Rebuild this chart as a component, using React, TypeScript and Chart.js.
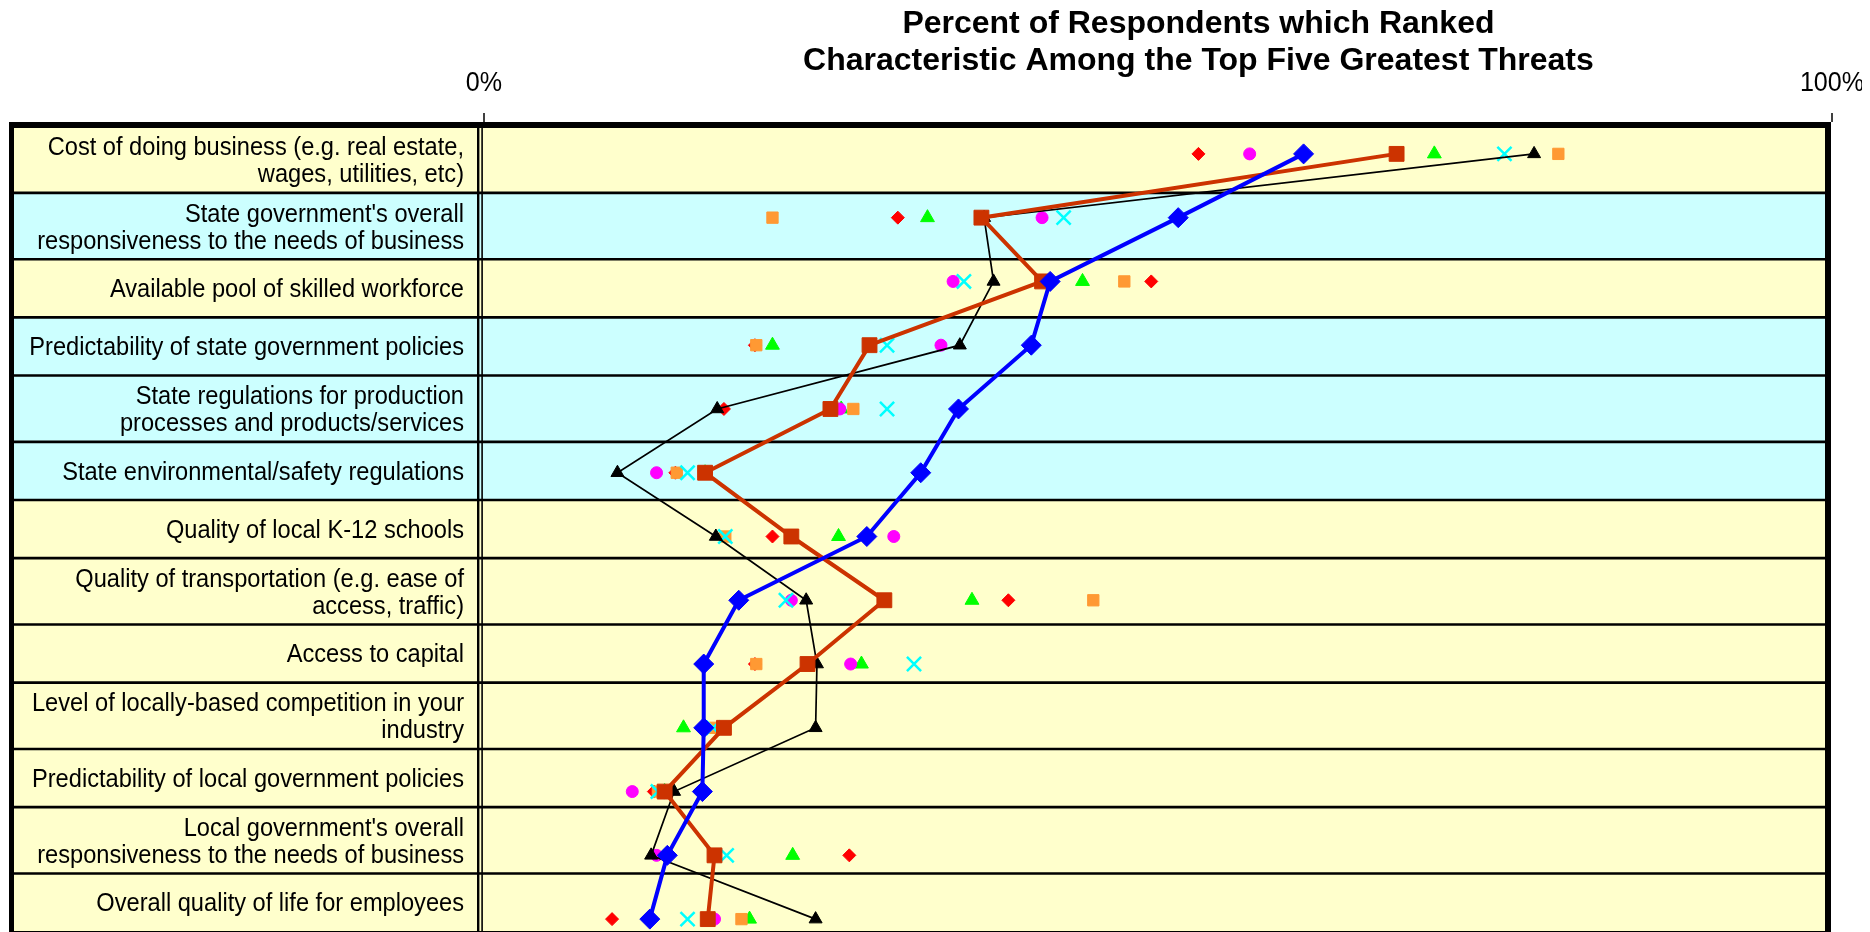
import React, { useEffect, useRef } from "react";
import { Chart, registerables } from "chart.js";

Chart.register(...registerables);

// ---------- DATA ----------
const titleLines = [
  "Percent of Respondents which Ranked",
  "Characteristic Among the Top Five Greatest Threats",
];

const categories: string[][] = [
  ["Cost of doing business (e.g. real estate,", "wages, utilities, etc)"],
  ["State government's overall", "responsiveness to the needs of business"],
  ["Available pool of skilled workforce"],
  ["Predictability of state government policies"],
  ["State regulations for production", "processes and products/services"],
  ["State environmental/safety regulations"],
  ["Quality of local K-12 schools"],
  ["Quality of transportation (e.g. ease of", "access, traffic)"],
  ["Access to capital"],
  ["Level of locally-based competition in your", "industry"],
  ["Predictability of local government policies"],
  ["Local government's overall", "responsiveness to the needs of business"],
  ["Overall quality of life for employees"],
];

// rows shaded cyan (state-level characteristics)
const stateLevelRows = [false, true, false, true, true, true, false, false, false, false, false, false, false];

const xTickValues = [0, 100];

const seriesBlueDiamond = [60.8, 51.5, 42.0, 40.6, 35.2, 32.4, 28.4, 18.9, 16.3, 16.3, 16.2, 13.6, 12.3];
const seriesRustSquare = [67.7, 36.9, 41.4, 28.6, 25.7, 16.4, 22.8, 29.7, 24.0, 17.8, 13.4, 17.1, 16.6];
const seriesBlackTriangle = [77.9, 37.1, 37.8, 35.3, 17.3, 9.9, 17.2, 23.9, 24.7, 24.6, 14.1, 12.4, 24.6];
const seriesRedDiamond = [53.0, 30.7, 49.5, 20.1, 17.8, 14.2, 21.4, 38.9, 20.1, 16.2, 12.6, 27.1, 9.5];
const seriesMagentaCircle = [56.8, 41.4, 34.8, 33.9, 26.4, 12.8, 30.4, 22.8, 27.2, 16.4, 11.0, 12.8, 17.1];
const seriesGreenTriangle = [70.5, 32.9, 44.4, 21.4, 26.5, 16.4, 26.3, 36.2, 28.0, 14.8, 13.4, 22.9, 19.7];
const seriesCyanCross = [75.7, 43.0, 35.6, 29.9, 29.9, 15.1, 17.9, 22.4, 31.9, 17.0, 12.9, 18.0, 15.1];
const seriesOrangeSquare = [79.7, 21.4, 47.5, 20.2, 27.4, 14.3, 17.9, 45.2, 20.2, 16.9, 12.9, 17.1, 19.1];

// ---------- STYLE ----------
const FONT = '"Liberation Sans", Arial, sans-serif';
const YELLOW_ROW = "#FFFFCC";
const CYAN_ROW = "#CCFFFF";
const ROW_HEIGHT_ONE_LINE = 58.1;
const ROW_HEIGHT_TWO_LINES = 66.4;

const tablePlugin = {
  id: "tableBackdrop",
  beforeDatasetsDraw(chart: any) {
    const { ctx, chartArea } = chart;
    const xScale = chart.scales.x;
    const left = 1;
    const right = chartArea.right - 1;
    const top = chartArea.top + 4.5;
    const edges: number[] = [top];
    categories.forEach((lines) => {
      edges.push(edges[edges.length - 1] + (lines.length > 1 ? ROW_HEIGHT_TWO_LINES : ROW_HEIGHT_ONE_LINE));
    });

    const hLine = (x1: number, x2: number, y: number, w: number) => {
      ctx.lineWidth = w;
      ctx.beginPath();
      ctx.moveTo(x1, y);
      ctx.lineTo(x2, y);
      ctx.stroke();
    };
    const vLine = (x: number, y1: number, y2: number, w: number) => {
      ctx.lineWidth = w;
      ctx.beginPath();
      ctx.moveTo(x, y1);
      ctx.lineTo(x, y2);
      ctx.stroke();
    };
    // text squeezed slightly horizontally, as in the reference rendering
    const squeezedText = (t: string, x: number, y: number, sx: number) => {
      ctx.save();
      ctx.translate(x, y);
      ctx.scale(sx, 1);
      ctx.fillText(t, 0, 0);
      ctx.restore();
    };

    ctx.save();
    // row fills
    categories.forEach((_, i) => {
      ctx.fillStyle = stateLevelRows[i] ? CYAN_ROW : YELLOW_ROW;
      ctx.fillRect(left, edges[i], right - left, edges[i + 1] - edges[i]);
    });
    ctx.strokeStyle = "#000";
    // row separators
    for (let i = 1; i < edges.length - 1; i++) hLine(left, right, edges[i], 2.6);
    hLine(left, right, edges[edges.length - 1] + 2, 5);
    // divider between labels and plot
    const bottom = edges[edges.length - 1] + 4;
    vLine(chartArea.left - 5.8, chartArea.top, bottom, 2.4);
    vLine(chartArea.left - 1.9, chartArea.top, bottom, 1.6);
    // outer frame
    vLine(3.5, chartArea.top, bottom, 5);
    vLine(chartArea.right - 4, chartArea.top, bottom, 6);
    hLine(1, chartArea.right - 1, chartArea.top + 3, 6);

    // tick marks and tick labels
    ctx.fillStyle = "#000";
    ctx.font = `27px ${FONT}`;
    ctx.textAlign = "center";
    ctx.textBaseline = "alphabetic";
    xTickValues.forEach((v) => {
      const x = xScale.getPixelForValue(v);
      vLine(x, chartArea.top - 9, chartArea.top, 1.5);
      squeezedText(`${v}%`, x, chartArea.top - 31, 0.93);
    });

    // row labels
    ctx.font = `25px ${FONT}`;
    ctx.textAlign = "right";
    categories.forEach((lines, i) => {
      const mid = (edges[i] + edges[i + 1]) / 2;
      lines.forEach((t, j) => {
        const cy = mid + (j - (lines.length - 1) / 2) * 27;
        squeezedText(t, chartArea.left - 20, cy + 8.9, 0.945);
      });
    });

    // title
    ctx.font = `bold 32px ${FONT}`;
    ctx.textAlign = "center";
    const tx = chartArea.left + (chartArea.right - chartArea.left) * 0.53;
    titleLines.forEach((t, i) => ctx.fillText(t, tx, 24.8 + i * 37.5));
    ctx.restore();
  },
};

export default function App() {
  const ref = useRef<HTMLCanvasElement>(null);
  useEffect(() => {
    document.documentElement.style.overflow = "hidden";
    document.body.style.overflow = "hidden";
    const lineSeries = (data: number[], color: string, style: string, radius: number, width: number) => ({
      data,
      borderColor: color,
      backgroundColor: color,
      borderWidth: width,
      pointStyle: style,
      pointRadius: radius,
      pointBackgroundColor: color,
      pointBorderColor: color,
      pointBorderWidth: 1,
      showLine: true,
      tension: 0,
    });
    const markerSeries = (data: number[], color: string, style: string, radius: number, bw = 1) => ({
      data,
      borderColor: color,
      backgroundColor: color,
      pointStyle: style,
      pointRadius: radius,
      pointBackgroundColor: color,
      pointBorderColor: color,
      pointBorderWidth: bw,
      showLine: false,
    });
    const chart = new Chart(ref.current!, {
      type: "line",
      data: {
        labels: categories as any,
        datasets: [
          { label: "Series 1", ...lineSeries(seriesBlueDiamond, "#0000FF", "rectRot", 10, 4) },
          { label: "Series 2", ...lineSeries(seriesRustSquare, "#CC3300", "rect", 10.5, 4) },
          { label: "Series 3", ...lineSeries(seriesBlackTriangle, "#000000", "triangle", 7.5, 1.7) },
          { label: "Series 4", ...markerSeries(seriesCyanCross, "#00FFFF", "crossRot", 10, 2.5) },
          { label: "Series 5", ...markerSeries(seriesOrangeSquare, "#FF9933", "rect", 8) },
          { label: "Series 6", ...markerSeries(seriesMagentaCircle, "#FF00FF", "circle", 6) },
          { label: "Series 7", ...markerSeries(seriesGreenTriangle, "#00FF00", "triangle", 8) },
          { label: "Series 8", ...markerSeries(seriesRedDiamond, "#FF0000", "rectRot", 6.5) },
        ] as any,
      },
      options: {
        indexAxis: "y",
        animation: false,
        responsive: false,
        devicePixelRatio: 1,
        layout: { padding: { left: 476, right: 30, top: 114, bottom: 57 } },
        scales: {
          x: { type: "linear", min: 0, max: 100, display: false },
          y: { type: "category", offset: true, display: false },
        },
        plugins: {
          legend: { display: false },
          tooltip: { enabled: false },
          title: { display: false },
        },
      },
      plugins: [tablePlugin],
    } as any);
    return () => chart.destroy();
  }, []);
  return (
    <canvas
      ref={ref}
      width={1854}
      height={1000}
      style={{ display: "block", width: 1854, height: 1000 }}
    />
  );
}
